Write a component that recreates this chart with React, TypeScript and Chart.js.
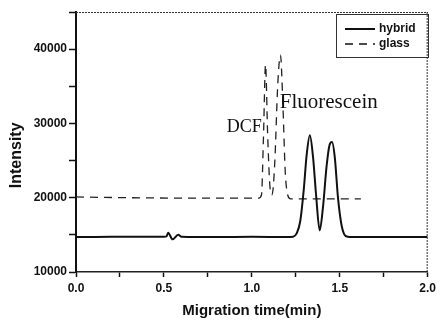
import React, { useEffect, useRef } from "react";
import { Chart, registerables } from "chart.js";

Chart.register(...registerables);

// Hybrid chip (solid)
const hybridTime = [0, 0.2, 0.5, 0.515, 0.524, 0.549, 0.581, 0.6, 0.8, 1.0, 1.2, 1.235, 1.255, 1.275, 1.295, 1.312, 1.33, 1.348, 1.365, 1.386, 1.405, 1.425, 1.442, 1.456, 1.472, 1.49, 1.508, 1.525, 1.545, 1.57, 1.8, 2.0];
const hybridValue = [14700, 14750, 14750, 14800, 15290, 14400, 15020, 14750, 14700, 14750, 14700, 14750, 15200, 16800, 21000, 25800, 28400, 25500, 20500, 15600, 18800, 24200, 27100, 27500, 25400, 20000, 16600, 15100, 14750, 14700, 14700, 14700];

// Glass chip (dashed)
const glassTime = [0, 0.3, 0.6, 0.9, 1.04, 1.055, 1.066, 1.078, 1.09, 1.103, 1.115, 1.13, 1.148, 1.163, 1.176, 1.19, 1.205, 1.22, 1.4, 1.62];
const glassValue = [20100, 20000, 19950, 19950, 19950, 20400, 28000, 37900, 28500, 21500, 20400, 24500, 35500, 39200, 33000, 23500, 20300, 19850, 19850, 19850];

const seriesLabels = ["hybrid", "glass"];
const xTicks = [0, 0.5, 1.0, 1.5, 2.0];
const yTicks = [10000, 20000, 30000, 40000];
const annotations = [
  { text: "DCF", x: 0.858, y: 28840, size: 18 },
  { text: "Fluorescein", x: 1.159, y: 32070, size: 21 },
];

const toPoints = (xs: number[], ys: number[]) => xs.map((x, i) => ({ x, y: ys[i] }));

const framePlugin = {
  id: "frame",
  afterDraw(chart: any) {
    const { ctx, chartArea } = chart;
    const { left, right, top, bottom } = chartArea;
    ctx.save();
    // top & right frame
    ctx.strokeStyle = "#333";
    ctx.lineWidth = 1;
    ctx.setLineDash([2, 1]);
    ctx.beginPath();
    ctx.moveTo(left, top + 0.5);
    ctx.lineTo(right, top + 0.5);
    ctx.moveTo(right - 0.5, top);
    ctx.lineTo(right - 0.5, bottom);
    ctx.stroke();
    ctx.setLineDash([]);

    // annotations
    const xs = chart.scales.x;
    const ys = chart.scales.y;
    ctx.fillStyle = "#111";
    ctx.textBaseline = "alphabetic";
    ctx.textAlign = "left";
    annotations.forEach((a) => {
      ctx.font = `${a.size}px "Liberation Serif", serif`;
      ctx.fillText(a.text, xs.getPixelForValue(a.x), ys.getPixelForValue(a.y));
    });

    // legend box
    const bx = 336, by = 14, bw = 92, bh = 43;
    ctx.strokeStyle = "#333";
    ctx.lineWidth = 1;
    ctx.strokeRect(bx + 0.5, by + 0.5, bw, bh);
    ctx.font = 'bold 12px "Liberation Sans", Arial, sans-serif';
    ctx.textBaseline = "middle";
    chart.data.datasets.forEach((ds: any, i: number) => {
      const y = by + 15 + i * 15;
      ctx.strokeStyle = "#111";
      ctx.lineWidth = ds.borderWidth;
      ctx.setLineDash(ds.borderDash || []);
      ctx.beginPath();
      ctx.moveTo(bx + 9, y);
      ctx.lineTo(bx + 39, y);
      ctx.stroke();
      ctx.setLineDash([]);
      ctx.fillStyle = "#111";
      ctx.fillText(ds.label, bx + 43, y);
    });
    ctx.restore();
  },
};

export default function App() {
  const ref = useRef<HTMLCanvasElement | null>(null);
  useEffect(() => {
    if (!ref.current) return;
    const tickFont = { family: '"Liberation Sans", Arial, sans-serif', size: 12, weight: "bold" as const };
    const chart = new Chart(ref.current, {
      type: "line",
      data: {
        datasets: [
          {
            label: seriesLabels[0],
            data: toPoints(hybridTime, hybridValue),
            borderColor: "#111",
            borderWidth: 2,
            pointRadius: 0,
            cubicInterpolationMode: "monotone",
            fill: false,
          },
          {
            label: seriesLabels[1],
            data: toPoints(glassTime, glassValue),
            borderColor: "#222",
            borderWidth: 1.3,
            borderDash: [8, 6],
            pointRadius: 0,
            cubicInterpolationMode: "monotone",
            fill: false,
          },
        ],
      },
      options: {
        animation: false,
        responsive: false,
        layout: { padding: { top: 12, right: 12, left: 0, bottom: 0 } },
        plugins: { legend: { display: false }, tooltip: { enabled: false } },
        scales: {
          x: {
            type: "linear",
            min: 0,
            max: 2,
            afterFit: (s: any) => { s.height = 48; },
            afterBuildTicks: (s: any) => {
              const t: any[] = [];
              for (let i = 0; i <= 8; i++) t.push({ value: i * 0.25 });
              s.ticks = t;
            },
            ticks: {
              color: "#111",
              font: tickFont,
              padding: 4,
              maxRotation: 0,
              callback: (v: any) => {
                const n = Number(v);
                return xTicks.some((t) => Math.abs(t - n) < 1e-6) ? n.toFixed(1) : "";
              },
            },
            grid: { drawOnChartArea: false, tickLength: 5, color: "#111", tickWidth: 1.5 },
            border: { color: "#222", width: 1.5, dash: [2, 1] },
            title: {
              display: true,
              text: "Migration time(min)",
              color: "#111",
              font: { family: '"Liberation Sans", Arial, sans-serif', size: 15, weight: "bold" },
              padding: { top: 0, bottom: 0 },
            },
          },
          y: {
            type: "linear",
            min: 10000,
            max: 45000,
            afterFit: (s: any) => { s.width = 76; },
            afterBuildTicks: (s: any) => {
              const t: any[] = [];
              for (let v = 10000; v <= 45000; v += 5000) t.push({ value: v });
              s.ticks = t;
            },
            ticks: {
              color: "#111",
              font: tickFont,
              padding: 2,
              callback: (v: any) => (yTicks.includes(Number(v)) ? String(v) : ""),
            },
            grid: { drawOnChartArea: false, tickLength: 7, color: "#111", tickWidth: 1.5 },
            border: { color: "#111", width: 2 },
            title: {
              display: true,
              text: "Intensity      ",
              color: "#111",
              font: { family: '"Liberation Sans", Arial, sans-serif', size: 16, weight: "bold" },
              padding: { top: 7, bottom: 0 },
            },
          },
        },
      },
      plugins: [framePlugin],
    });
    return () => chart.destroy();
  }, []);
  return (
    <div style={{ position: "fixed", left: 0, top: 0, width: 440, height: 320, background: "#fff" }}>
      <canvas ref={ref} width={440} height={320} />
    </div>
  );
}
